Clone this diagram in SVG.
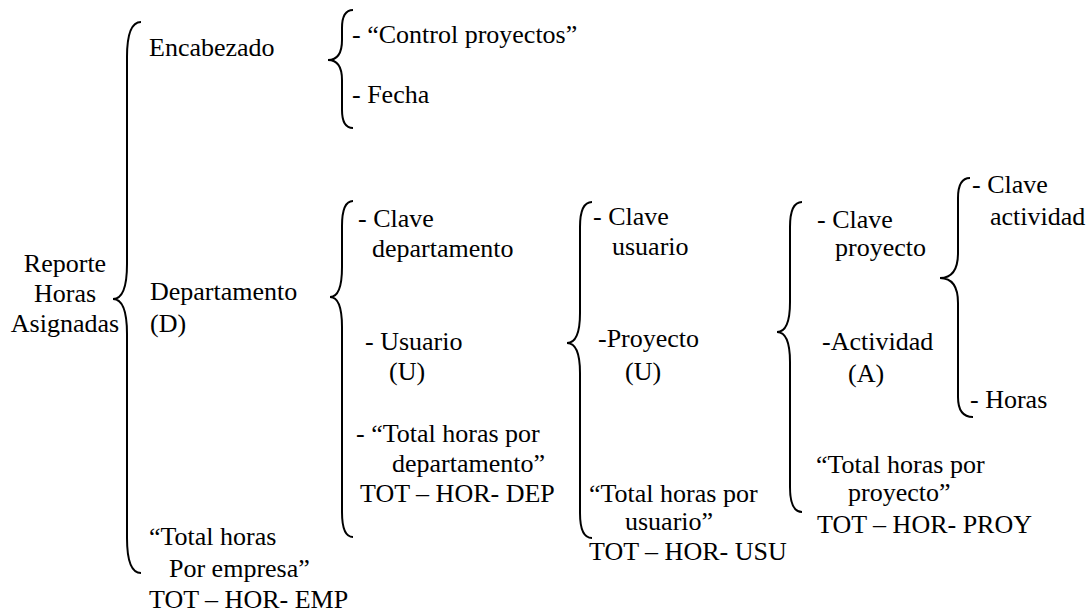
<svg xmlns="http://www.w3.org/2000/svg" width="1091" height="612" viewBox="0 0 1091 612">
<style>
text{font-family:"Liberation Serif","Times New Roman",serif;font-size:26px;fill:#000}
.c{text-anchor:middle}
.br{fill:none;stroke:#000;stroke-width:2}
</style>
<rect width="1091" height="612" fill="#fff"/>
<g id="connectors">
<path class="br" d="M141,22 Q127,22 127,57 L127,264 Q127,299 113,299 Q127,299 127,334 L127,538 Q127,573 141,573"/>
<path class="br" d="M353,10 Q342,10 342,28 L342,40 Q342,60 328,60 Q342,60 342,80 L342,110 Q342,128 353,128"/>
<path class="br" d="M353,201 Q342,201 342,226 L342,267 Q342,297 330,297 Q342,297 342,327 L342,512 Q342,537 353,537"/>
<path class="br" d="M592,202 Q580,202 580,227 L580,313 Q580,343 567,343 Q580,343 580,373 L580,513 Q580,538 592,538"/>
<path class="br" d="M802,202 Q790,202 790,227 L790,302 Q790,332 777,332 Q790,332 790,362 L790,487 Q790,512 802,512"/>
<path class="br" d="M970,178 Q958,178 958,198 L958,253 Q958,278 940,278 Q958,278 958,303 L958,397 Q958,417 973,417"/>
</g>
<g id="reporte"><text class="c" x="65" y="272">Reporte</text><text class="c" x="65" y="302">Horas</text><text class="c" x="65" y="332">Asignadas</text></g>
<g id="encabezado"><text x="149" y="56">Encabezado</text></g>
<g id="departamento"><text x="150" y="300">Departamento</text><text x="150" y="332">(D)</text></g>
<g id="total-empresa"><text x="149" y="545">“Total horas</text><text x="169" y="577">Por empresa”</text><text x="149" y="608">TOT – HOR- EMP</text></g>
<g id="control"><text x="352" y="43">- “Control proyectos”</text></g>
<g id="fecha"><text x="352" y="103">- Fecha</text></g>
<g id="clave-dep"><text x="358" y="227">- Clave</text><text x="372" y="257">departamento</text></g>
<g id="usuario"><text x="365" y="350">- Usuario</text><text x="389" y="380">(U)</text></g>
<g id="total-dep"><text x="356" y="442">- “Total horas por</text><text x="392" y="472">departamento”</text><text x="360" y="502">TOT – HOR- DEP</text></g>
<g id="clave-usu"><text x="593" y="225">- Clave</text><text x="612" y="255">usuario</text></g>
<g id="proyecto"><text x="598" y="347">-Proyecto</text><text x="625" y="380">(U)</text></g>
<g id="total-usu"><text x="589" y="502">“Total horas por</text><text x="625" y="530">usuario”</text><text x="589" y="560">TOT – HOR- USU</text></g>
<g id="clave-proy"><text x="817" y="228">- Clave</text><text x="835" y="256">proyecto</text></g>
<g id="actividad"><text x="822" y="350">-Actividad</text><text x="848" y="382">(A)</text></g>
<g id="total-proy"><text x="816" y="473">“Total horas por</text><text x="848" y="501">proyecto”</text><text x="817" y="533">TOT – HOR- PROY</text></g>
<g id="clave-act"><text x="972" y="193">- Clave</text><text x="990" y="225">actividad</text></g>
<g id="horas"><text x="970" y="408">- Horas</text></g>
</svg>
